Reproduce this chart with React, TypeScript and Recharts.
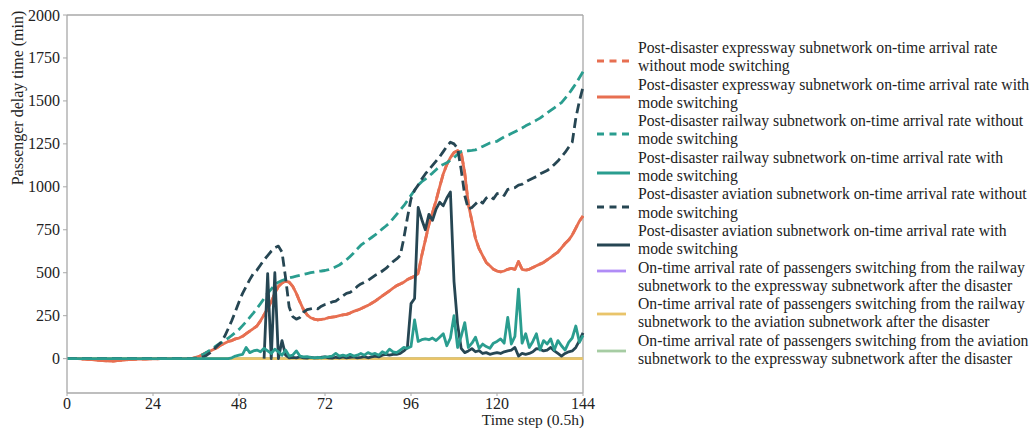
import { LineChart, Line, XAxis, YAxis, ReferenceLine, Label } from 'recharts'

// time steps 0..144 (0.5h each)
const steps = Array.from({ length: 145 }, (_, i) => i)

const xTicks = [0, 24, 48, 72, 96, 120, 144]
const yTicks = [0, 250, 500, 750, 1000, 1250, 1500, 1750, 2000]

// Post-disaster expressway subnetwork, with mode switching
const expresswayWith = [
  0, 0, 0, 0, -2, -3, -5, -6, -8, -10,
  -12, -13, -14, -14, -12, -10, -8, -6, -5, -4,
  -3, -2, -2, -1, -1, -1, 0, 0, 0, 0,
  0, 0, 0, 0, 0, 2, 8, 15, 25, 35,
  45, 55, 65, 80, 90, 100, 105, 115, 120, 130,
  145, 160, 175, 190, 220, 255, 290, 330, 380, 420,
  440, 450, 445, 420, 380, 330, 285, 255, 238, 230,
  225, 228, 232, 238, 242, 245, 250, 255, 258, 265,
  275, 282, 290, 300, 310, 322, 335, 350, 365, 380,
  395, 410, 425, 435, 445, 460, 470, 480, 495, 600,
  690, 780, 850, 920, 1000, 1075, 1130, 1170, 1200, 1210,
  1200, 1080, 900, 800, 700, 640, 600, 560, 540, 520,
  510, 505, 510, 520, 525, 520, 565, 520, 515, 520,
  530, 540, 550, 560, 575, 590, 605, 620, 645, 670,
  690, 720, 760, 800, 830,
]
// without switching: lies under the curve above in the figure
const expresswayNo = expresswayWith

// Post-disaster railway subnetwork
const railwayNo = [
  0, 0, 0, 0, 0, 0, 0, 0, 0, 0,
  0, 0, 0, 0, 0, 0, 0, 0, 0, 0,
  0, 0, 0, 0, 0, 0, 0, 0, 0, 0,
  0, 0, 0, 0, 0, 0, 5, 15, 25, 38,
  50, 65, 80, 92, 105, 120, 135, 152, 170, 192,
  215, 240, 265, 292, 320, 350, 380, 405, 430, 445,
  455, 462, 470, 475, 480, 485, 490, 495, 500, 504,
  508, 510, 513, 518, 525, 535, 545, 560, 575, 595,
  615, 638, 660, 675, 690, 705, 720, 738, 755, 772,
  790, 815, 840, 865, 890, 920, 950, 980, 1010, 1030,
  1045, 1062, 1080, 1100, 1120, 1130, 1140, 1155, 1170, 1190,
  1205, 1208, 1210, 1212, 1215, 1225, 1235, 1245, 1255, 1260,
  1265, 1278, 1290, 1300, 1310, 1320, 1330, 1342, 1355, 1365,
  1376, 1388, 1400, 1415, 1430, 1445, 1460, 1475, 1490, 1515,
  1540, 1570, 1600, 1635, 1670,
]
const railwayWith = [
  0, 0, 0, 0, 0, 0, 0, 0, 0, 0,
  0, 0, 0, 0, 0, 0, 0, 0, 0, 0,
  0, 0, 0, 0, 0, 0, 0, 0, 0, 0,
  0, 0, 0, 0, 0, 0, 0, 0, 0, 0,
  0, 0, 0, 0, 0, 0, 5, 15, 20, 25,
  65, 35, 45, 50, 40, 60, 45, 30, 55, 40,
  20, 50, 15, 20, 45, 15, 10, 12, 8, 5,
  8, 5, 10, 12, 15, 30, 15, 20, 15, 25,
  15, 20, 30, 20, 35, 25, 30, 20, 40, 30,
  55, 40, 35, 50, 65, 60, 70, 225, 100, 110,
  115, 110, 120, 105, 125, 145, 75, 120, 250, 65,
  130, 210, 65, 90, 125, 60, 85, 70, 60, 90,
  100, 115, 90, 240, 85, 130, 405, 90, 145, 65,
  100, 145, 50, 105, 85, 115, 50, 105, 75, 50,
  95, 120, 190, 95, 135,
]

// Post-disaster aviation subnetwork
const aviationNo = [
  0, 0, 0, 0, 0, 0, 0, 0, 0, 0,
  0, 0, 0, 0, 0, 0, 0, 0, 0, 0,
  0, 0, 0, 0, 0, 0, 0, 0, 0, 0,
  0, 0, 0, 0, 0, 0, 0, 3, 10, 20,
  35, 55, 75, 95, 130, 175, 222, 275, 330, 380,
  420, 460, 495, 515, 545, 575, 600, 625, 645, 655,
  620, 470, 300, 245, 230, 240, 270, 285, 290, 295,
  290, 305, 315, 320, 330, 335, 350, 365, 380, 385,
  400, 420, 435, 445, 455, 470, 485, 495, 510, 525,
  545, 565, 580, 600, 700, 820, 930, 980, 1010, 1045,
  1075, 1100, 1125, 1150, 1175, 1205, 1235, 1260, 1250, 1225,
  1100, 950, 870, 880, 900, 920, 905, 935, 945, 930,
  960, 965, 950, 985, 990, 995, 1010, 1015, 1030, 1040,
  1050, 1060, 1075, 1085, 1095, 1110, 1130, 1150, 1175, 1200,
  1230, 1260, 1400, 1500, 1580,
]
const aviationWith = [
  null, null, null, null, null, null, null, null, null, null,
  null, null, null, null, null, null, null, null, null, null,
  null, null, null, null, null, null, null, null, null, null,
  null, null, null, null, null, null, null, null, null, null,
  null, null, null, null, null, null, null, null, null, null,
  null, null, null, null, null, 0, 495, 0, 500, 0,
  105, 20, 5, 8, 5, 10, 5, 3, 8, 5,
  5, 8, 10, 5, 3, 8, 5, 10, 5, 8,
  10, 5, 8, 12, 5, 10, 15, 10, 20, 25,
  20, 25, 25, 30, 45, 65, 320, 350, 880, 810,
  750, 840, 805, 870, 910, 890, 935, 970, 450, 200,
  60, 35, 45, 58, 40, 47, 30, 35, 25, 30,
  35, 30, 40, 45, 50, 65, 15, 30, 25, 30,
  40, 58, 55, 45, 50, 65, 45, 30, 15, 30,
  40, 45, 65, 105, 150,
]

// passengers switching between subnetworks (all at zero)
const switchZero = [
  0, 0, 0, 0, 0, 0, 0, 0, 0, 0, 0, 0, 0, 0, 0, 0, 0, 0, 0, 0,
  0, 0, 0, 0, 0, 0, 0, 0, 0, 0, 0, 0, 0, 0, 0, 0, 0, 0, 0, 0,
  0, 0, 0, 0, 0, 0, 0, 0, 0, 0, 0, 0, 0, 0, 0, 0, 0, 0, 0, 0,
  0, 0, 0, 0, 0, 0, 0, 0, 0, 0, 0, 0, 0, 0, 0, 0, 0, 0, 0, 0,
  0, 0, 0, 0, 0, 0, 0, 0, 0, 0, 0, 0, 0, 0, 0, 0, 0, 0, 0, 0,
  0, 0, 0, 0, 0, 0, 0, 0, 0, 0, 0, 0, 0, 0, 0, 0, 0, 0, 0, 0,
  0, 0, 0, 0, 0, 0, 0, 0, 0, 0, 0, 0, 0, 0, 0, 0, 0, 0, 0, 0,
  0, 0, 0, 0, 0,
]
const railToExpress = switchZero
const railToAviation = switchZero
const aviationToExpress = switchZero

const ORANGE = '#e76f51'
const TEAL = '#2a9d8f'
const DARK = '#264653'
const PURPLE = '#b08cf6'
const YELLOW = '#e9c46a'
const GREEN = '#a6cca3'

interface Series {
  key: string
  lines: [string, string]
  color: string
  dashed: boolean
  values: (number | null)[]
  sampleY: number
  short?: boolean
}

// legend order
const series: Series[] = [
  { key: 'expresswayNo', lines: ['Post-disaster expressway subnetwork on-time arrival rate', 'without mode switching'], color: ORANGE, dashed: true, values: expresswayNo, sampleY: 61 },
  { key: 'expresswayWith', lines: ['Post-disaster expressway subnetwork on-time arrival rate with', 'mode switching'], color: ORANGE, dashed: false, values: expresswayWith, sampleY: 97 },
  { key: 'railwayNo', lines: ['Post-disaster railway subnetwork on-time arrival rate without', 'mode switching'], color: TEAL, dashed: true, values: railwayNo, sampleY: 134 },
  { key: 'railwayWith', lines: ['Post-disaster railway subnetwork on-time arrival rate with', 'mode switching'], color: TEAL, dashed: false, values: railwayWith, sampleY: 173 },
  { key: 'aviationNo', lines: ['Post-disaster aviation subnetwork on-time arrival rate without', 'mode switching'], color: DARK, dashed: true, values: aviationNo, sampleY: 207 },
  { key: 'aviationWith', lines: ['Post-disaster aviation subnetwork on-time arrival rate with', 'mode switching'], color: DARK, dashed: false, values: aviationWith, sampleY: 245 },
  { key: 'railToExpress', lines: ['On-time arrival rate of passengers switching from the railway', 'subnetwork to the expressway subnetwork after the disaster'], color: PURPLE, dashed: false, values: railToExpress, sampleY: 271, short: true },
  { key: 'railToAviation', lines: ['On-time arrival rate of passengers switching from the railway', 'subnetwork to the aviation subnetwork after the disaster'], color: YELLOW, dashed: false, values: railToAviation, sampleY: 314, short: true },
  { key: 'aviationToExpress', lines: ['On-time arrival rate of passengers switching from the aviation', 'subnetwork to the expressway subnetwork after the disaster'], color: GREEN, dashed: false, values: aviationToExpress, sampleY: 351, short: true },
]

// drawing order (last on top)
const drawOrder = [
  'railToExpress', 'aviationToExpress', 'railToAviation',
  'expresswayNo', 'expresswayWith', 'railwayNo', 'aviationNo', 'aviationWith', 'railwayWith',
]

const data = steps.map((s, i) => {
  const row: Record<string, number | null> = { step: s }
  series.forEach((sr) => {
    row[sr.key] = sr.values[i]
  })
  return row
})

const FONT = '"Liberation Serif", "Times New Roman", serif'
const FRAME = '#a8a8a8'

function XTick({ x, y, payload }: any) {
  return (
    <text x={x} y={y + 13} textAnchor="middle" fontSize={16} fill="#222" fontFamily={FONT}>
      {payload.value}
    </text>
  )
}

function YTick({ x, y, payload }: any) {
  return (
    <text x={x - 1} y={y + 5.5} textAnchor="end" fontSize={16} fill="#222" fontFamily={FONT}>
      {payload.value}
    </text>
  )
}

export default function App() {
  return (
    <div style={{ position: 'absolute', left: 0, top: 0, width: 1031, height: 429, background: '#fff', fontFamily: FONT }}>
      <LineChart width={600} height={429} data={data} margin={{ top: 15, right: 17, bottom: 6, left: 7 }}>
        <XAxis
          dataKey="step"
          type="number"
          domain={[0, 144]}
          ticks={xTicks}
          tick={<XTick />}
          tickSize={3}
          tickMargin={0}
          height={30}
          axisLine={{ stroke: FRAME, strokeWidth: 1.3 }}
          tickLine={{ stroke: FRAME }}
        >
          <Label
            content={() => (
              <text x={533} y={425} textAnchor="middle" fontSize={15.5} fill="#222" fontFamily={FONT}>
                Time step (0.5h)
              </text>
            )}
          />
        </XAxis>
        <YAxis
          type="number"
          domain={[-200, 2000]}
          ticks={yTicks}
          allowDataOverflow
          tick={<YTick />}
          tickSize={4}
          tickMargin={2}
          width={60}
          axisLine={{ stroke: FRAME, strokeWidth: 1.3 }}
          tickLine={{ stroke: FRAME }}
        >
          <Label
            content={() => (
              <text transform="translate(23,98) rotate(-90)" textAnchor="middle" fontSize={16} fill="#222" fontFamily={FONT}>
                Passenger delay time (min)
              </text>
            )}
          />
        </YAxis>
        <ReferenceLine y={2000} stroke={FRAME} strokeWidth={1.3} />
        <ReferenceLine x={144} stroke={FRAME} strokeWidth={1.3} />
        {drawOrder.map((k) => {
          const sr = series.find((s) => s.key === k)!
          return (
            <Line
              key={k}
              type="linear"
              dataKey={k}
              stroke={sr.color}
              strokeWidth={2.8}
              strokeDasharray={sr.dashed ? '10 5' : undefined}
              strokeLinejoin="round"
              dot={false}
              activeDot={false}
              isAnimationActive={false}
            />
          )
        })}
      </LineChart>

      <div style={{ position: 'absolute', left: 0, top: 0 }}>
        {series.map((sr, i) => (
          <div key={sr.key}>
            <svg
              width={40}
              height={6}
              style={{ position: 'absolute', left: 596, top: sr.sampleY - 3 }}
            >
              <line
                x1={1}
                x2={sr.short ? 30 : 34}
                y1={3}
                y2={3}
                stroke={sr.color}
                strokeWidth={2.8}
                strokeDasharray={sr.dashed ? '7 5.5' : undefined}
              />
            </svg>
            <div
              style={{
                position: 'absolute',
                left: 638,
                top: 39 + i * 36.6,
                fontSize: 15.7,
                lineHeight: '18.3px',
                color: '#222',
                whiteSpace: 'nowrap',
              }}
            >
              <div>{sr.lines[0]}</div>
              <div>{sr.lines[1]}</div>
            </div>
          </div>
        ))}
      </div>
    </div>
  )
}
